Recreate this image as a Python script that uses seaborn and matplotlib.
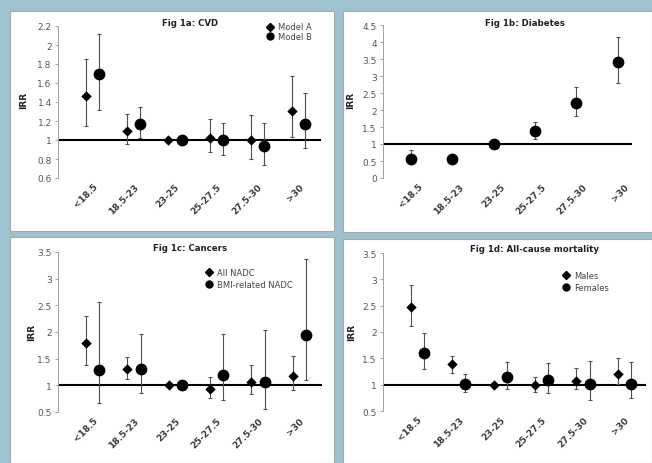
import numpy as np
import pandas as pd
import matplotlib
matplotlib.use('Agg')
import matplotlib.pyplot as plt
from matplotlib.patches import Rectangle
from matplotlib.lines import Line2D
from matplotlib.transforms import ScaledTranslation
import seaborn as sns

sns.set_theme(style='white')
plt.rcParams['font.family'] = ['DejaVu Sans']

# BMI groups
categories = ['<18.5', '18.5-23', '23-25', '25-27.5', '27.5-30', '>30']

# Fig 1a: CVD
cvd_a = [1.46, 1.10, 1.00, 1.02, 1.00, 1.31]
cvd_a_lo = [1.15, 0.96, 1.00, 0.87, 0.80, 1.03]
cvd_a_hi = [1.85, 1.27, 1.00, 1.22, 1.26, 1.67]
cvd_b = [1.69, 1.17, 1.00, 1.00, 0.94, 1.17]
cvd_b_lo = [1.32, 1.02, 1.00, 0.84, 0.74, 0.92]
cvd_b_hi = [2.12, 1.35, 1.00, 1.18, 1.18, 1.49]

# Fig 1b: Diabetes
dm = [0.57, 0.56, 1.00, 1.38, 2.20, 3.40]
dm_lo = [0.40, 0.50, 1.00, 1.15, 1.81, 2.80]
dm_hi = [0.83, 0.62, 1.00, 1.66, 2.68, 4.14]

# Fig 1c: Cancers
nadc = [1.79, 1.30, 1.00, 0.94, 1.07, 1.17]
nadc_lo = [1.39, 1.11, 1.00, 0.77, 0.83, 0.91]
nadc_hi = [2.30, 1.54, 1.00, 1.16, 1.39, 1.55]
bmi_nadc = [1.29, 1.30, 1.00, 1.20, 1.07, 1.94]
bmi_nadc_lo = [0.66, 0.85, 1.00, 0.72, 0.56, 1.10]
bmi_nadc_hi = [2.56, 1.97, 1.00, 1.96, 2.04, 3.37]

# Fig 1d: All-cause mortality
males = [2.47, 1.39, 1.00, 1.00, 1.07, 1.21]
males_lo = [2.12, 1.23, 1.00, 0.86, 0.91, 1.01]
males_hi = [2.89, 1.54, 1.00, 1.14, 1.31, 1.50]
females = [1.60, 1.02, 1.14, 1.09, 1.01, 1.02]
females_lo = [1.29, 0.87, 0.91, 0.84, 0.71, 0.74]
females_hi = [1.98, 1.21, 1.43, 1.41, 1.45, 1.43]

BG = '#9cc3cf'
W, H = 652, 464
fig = plt.figure(figsize=(W/100, H/100), dpi=100, facecolor=BG)

def box(l, t, r, b):
    return [l/W, 1-b/H, (r-l)/W, (b-t)/H]

# white chart panels
for l, t, r, b in [(10, 12, 334, 232), (343, 12, 652, 233), (10, 238, 334, 464), (343, 240, 652, 464)]:
    fig.patches.append(Rectangle((l/W, 1-b/H), (r-l)/W, (b-t)/H, transform=fig.transFigure,
                                 facecolor='white', edgecolor='#a8a8a8', lw=0.8, zorder=-5))

dodge = 0.161
x = np.arange(len(categories))

def draw_panel(ax, series, ylim, ystep, xlim):
    ax.axhline(1, color='black', lw=1.5, zorder=1)
    for vals, lo, hi, mk, size, off, lab in series:
        vals, lo, hi = np.array(vals), np.array(lo), np.array(hi)
        ax.errorbar(x + off, vals, yerr=[vals - lo, hi - vals], fmt='none', ecolor='#505050',
                    elinewidth=0.8, capsize=1.4, capthick=0.8, zorder=2)
        df = pd.DataFrame({'x': x + off, 'IRR': vals})
        sns.scatterplot(data=df, x='x', y='IRR', marker=mk, s=size, color='black',
                        edgecolor='black', linewidth=0, ax=ax, zorder=3, legend=False)
    ax.set_xlim(*xlim)
    ax.set_ylim(*ylim)
    yt = np.arange(ylim[0], ylim[1] + ystep/2, ystep)
    ax.set_yticks(yt)
    ax.set_yticklabels([f'{v:g}' for v in np.round(yt, 2)], fontsize=6.5, color='#555555')
    ax.set_xticks(x)
    ax.set_xticklabels(categories, rotation=45, ha='right', va='top', rotation_mode='anchor',
                       fontsize=6.5, color='#3a3a3a', fontweight='bold')
    shift = ScaledTranslation(0.03, 0, fig.dpi_scale_trans)
    for lbl in ax.get_xticklabels():
        lbl.set_transform(lbl.get_transform() + shift)
    ax.tick_params(axis='x', length=0, pad=2.5)
    ax.tick_params(axis='y', length=2.5, width=0.6, color='#909090', pad=2, left=True)
    for s in ['top', 'right', 'bottom']:
        ax.spines[s].set_visible(False)
    ax.spines['left'].set_color('#a0a0a0')
    ax.spines['left'].set_linewidth(0.7)
    ax.set_xlabel('')
    ax.set_ylabel('')
    ax.set_facecolor('none')

def add_legend(ax, labels, lx, ly, spacing):
    handles = [Line2D([], [], marker='D', ls='none', color='black', markersize=4),
               Line2D([], [], marker='o', ls='none', color='black', markersize=5)]
    ax.legend(handles, labels, loc='upper left', bbox_to_anchor=(lx/W, 1-ly/H),
              bbox_transform=fig.transFigure, frameon=False, fontsize=6,
              handlelength=0.8, handletextpad=0.55, labelspacing=spacing, borderpad=0,
              borderaxespad=0, labelcolor='#444444')

panels = [
    dict(box=(58, 27, 321, 179), ylim=(0.6, 2.2), ystep=0.2, xlim=(-0.84, 5.54),
         series=[(cvd_a, cvd_a_lo, cvd_a_hi, 'D', 28, -dodge, 'Model A'),
                 (cvd_b, cvd_b_lo, cvd_b_hi, 'o', 72, dodge, 'Model B')],
         title='Fig 1a: CVD', tpos=(190, 23), irr=(24, 100),
         legend=(['Model A', 'Model B'], (266.5, 23.5, 0.05))),
    dict(box=(383, 26, 632, 179), ylim=(0, 4.5), ystep=0.5, xlim=(-0.84, 5.19),
         series=[(dm, dm_lo, dm_hi, 'o', 72, -dodge, 'Diabetes')],
         title='Fig 1b: Diabetes', tpos=(525, 23), irr=(351, 100), legend=None),
    dict(box=(58, 253, 322, 413), ylim=(0.5, 3.5), ystep=0.5, xlim=(-0.84, 5.55),
         series=[(nadc, nadc_lo, nadc_hi, 'D', 28, -dodge, 'All NADC'),
                 (bmi_nadc, bmi_nadc_lo, bmi_nadc_hi, 'o', 72, dodge, 'BMI-related NADC')],
         title='Fig 1c: Cancers', tpos=(190, 249), irr=(32, 332),
         legend=(['All NADC', 'BMI-related NADC'], (206, 269, 0.34))),
    dict(box=(383, 254, 646, 412), ylim=(0.5, 3.5), ystep=0.5, xlim=(-0.83, 5.52),
         series=[(males, males_lo, males_hi, 'D', 28, -dodge, 'Males'),
                 (females, females_lo, females_hi, 'o', 72, dodge, 'Females')],
         title='Fig 1d: All-cause mortality', tpos=(534, 250), irr=(352, 332),
         legend=(['Males', 'Females'], (563, 272, 0.4))),
]

for p in panels:
    ax = fig.add_axes(box(*p['box']))
    draw_panel(ax, p['series'], p['ylim'], p['ystep'], p['xlim'])
    fig.text(p['tpos'][0]/W, 1-p['tpos'][1]/H, p['title'], ha='center', va='center',
             fontsize=6.2, fontweight='bold', color='#222222')
    fig.text(p['irr'][0]/W, 1-p['irr'][1]/H, 'IRR', ha='center', va='center', rotation=90,
             fontsize=6.5, fontweight='bold', color='#222222')
    if p['legend']:
        add_legend(ax, p['legend'][0], *p['legend'][1])

fig.savefig('out.png', dpi=100, facecolor=BG)
